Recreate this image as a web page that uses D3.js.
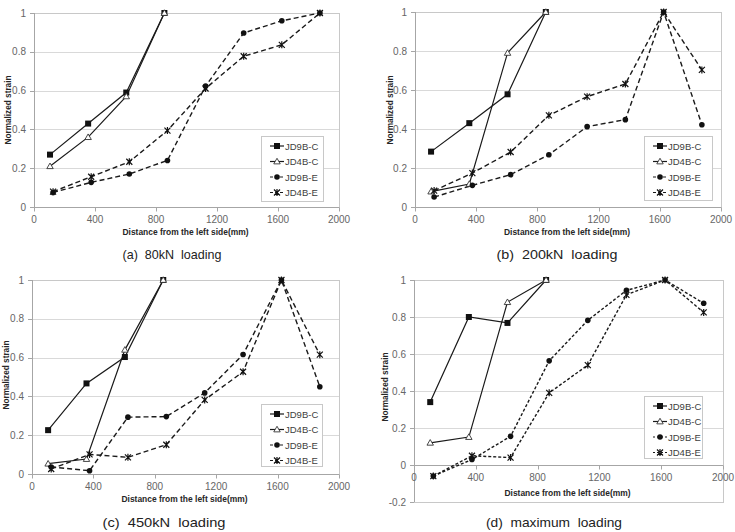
<!DOCTYPE html>
<html>
<head>
<meta charset="utf-8">
<script src="https://cdn.jsdelivr.net/npm/d3@7"></script>
<style>
	body { margin: 0; background: #fff; }
	svg { display: block; }
	.tick-label { font-family: "Liberation Sans", Arial, sans-serif; font-size: 10px; fill: #666; }
	.axis-title { font-family: "Liberation Sans", Arial, sans-serif; font-size: 9.5px; font-weight: bold; fill: #262626; }
	.legend-text { font-family: "Liberation Sans", Arial, sans-serif; font-size: 9.5px; fill: #404040; }
	.caption { font-family: "Liberation Sans", Arial, sans-serif; font-size: 13.5px; fill: #222; white-space: pre; }
</style>
</head>
<body>
<svg width="735" height="532"></svg>
<script>
// measuring positions (mm)
var xC = [105, 355, 605, 855];
var xE = [125, 375, 625, 875, 1125, 1375, 1625, 1875];
var seriesNames = ["JD9B-C", "JD4B-C", "JD9B-E", "JD4B-E"];
var captions = ["(a)  80kN  loading", "(b)  200kN  loading", "(c)  450kN  loading", "(d)  maximum  loading"];
var xTicks = [0, 400, 800, 1200, 1600, 2000];

// (a) 80kN
var a9C = [0.27, 0.43, 0.59, 1.0];
var a4C = [0.21, 0.36, 0.57, 1.0];
var a9E = [0.075, 0.127, 0.17, 0.24, 0.623, 0.897, 0.96, 1.0];
var a4E = [0.079, 0.156, 0.233, 0.394, 0.611, 0.777, 0.836, 1.0];

// (b) 200kN
var b9C = [0.284, 0.43, 0.578, 1.0];
var b4C = [0.079, 0.118, 0.79, 1.0];
var b9E = [0.051, 0.111, 0.166, 0.268, 0.412, 0.448, 1.0, 0.422];
var b4E = [0.084, 0.174, 0.282, 0.47, 0.566, 0.631, 1.0, 0.703];

// (c) 450kN
var c9C = [0.226, 0.467, 0.603, 1.0];
var c4C = [0.053, 0.077, 0.64, 1.0];
var c9E = [0.036, 0.017, 0.293, 0.296, 0.418, 0.616, 1.0, 0.45];
var c4E = [0.026, 0.101, 0.086, 0.151, 0.382, 0.527, 1.0, 0.615];

// (d) maximum
var d9C = [0.34, 0.8, 0.768, 1.0];
var d4C = [0.12, 0.151, 0.88, 1.0];
var d9E = [-0.06, 0.03, 0.155, 0.563, 0.782, 0.944, 1.0, 0.874];
var d4E = [-0.06, 0.05, 0.04, 0.39, 0.54, 0.92, 1.0, 0.825];

var yTicksA = [0, 0.2, 0.4, 0.6, 0.8, 1];
var yTicksD = [-0.2, 0, 0.2, 0.4, 0.6, 0.8, 1];

var panels = [
	{ left: 34, right: 339, top: 13, bottom: 207, yTicks: yTicksA, s: [a9C, a4C, a9E, a4E], dash: "5,3",
		tickY: 223, titleY: 235, capX: 172, capY: 259, capW: 99, yTitleX: 8, yTitleY: 110, legend: [261, 136, 62, 65] },
	{ left: 415, right: 721, top: 12, bottom: 207, yTicks: yTicksA, s: [b9C, b4C, b9E, b4E], dash: "5,3",
		tickY: 223, titleY: 235, capX: 557, capY: 259, capW: 121, yTitleX: 390, yTitleY: 110, legend: [644, 136, 68, 64] },
	{ left: 32, right: 339, top: 280, bottom: 474, yTicks: yTicksA, s: [c9C, c4C, c9E, c4E], dash: "5,3",
		tickY: 490, titleY: 502, capX: 164, capY: 527, capW: 123, yTitleX: 6, yTitleY: 375, legend: [261, 404, 61, 62] },
	{ left: 414, right: 723, top: 280, bottom: 502, yTicks: yTicksD, s: [d9C, d4C, d9E, d4E], dash: "3,2",
		tickY: 481, titleY: 496, capX: 554, capY: 527, capW: 136, yTitleX: 385, yTitleY: 387, legend: [644, 396, 58, 62] }
];

var svg = d3.select("svg");

function drawMarker(g, kind, x, y) {
	if (kind === 0) {
		g.append("rect").attr("x", x - 3).attr("y", y - 3).attr("width", 6).attr("height", 6).attr("fill", "#111");
	} else if (kind === 1) {
		g.append("path").attr("d", d3.symbol().type(d3.symbolTriangle).size(18)())
			.attr("transform", "translate(" + x + "," + (y + 0.5) + ")")
			.attr("fill", "#fff").attr("stroke", "#333").attr("stroke-width", 0.9);
	} else if (kind === 2) {
		g.append("circle").attr("cx", x).attr("cy", y).attr("r", 2.8).attr("fill", "#111");
	} else {
		// excel star marker: x with a vertical bar
		g.append("path")
			.attr("d", "M" + (x - 3) + "," + (y - 3) + "L" + (x + 3) + "," + (y + 3) +
				"M" + (x - 3) + "," + (y + 3) + "L" + (x + 3) + "," + (y - 3) +
				"M" + x + "," + (y - 3.5) + "L" + x + "," + (y + 3.5))
			.attr("stroke", "#111").attr("stroke-width", 1.2).attr("fill", "none");
	}
}

panels.forEach(function(p, pi) {
	var g = svg.append("g");
	var yMin = p.yTicks[0];
	var x = d3.scaleLinear().domain([0, 2000]).range([p.left, p.right]);
	var y = d3.scaleLinear().domain([yMin, 1]).range([p.bottom, p.top]);

	// gridlines
	g.append("g").selectAll("line").data(p.yTicks).enter().append("line")
		.attr("x1", p.left).attr("x2", p.right)
		.attr("y1", function(d) { return Math.round(y(d)) + 0.5; })
		.attr("y2", function(d) { return Math.round(y(d)) + 0.5; })
		.attr("stroke", "#d9d9d9").attr("stroke-width", 1);

	// plot border
	g.append("rect").attr("x", p.left + 0.5).attr("y", Math.round(p.top) + 0.5)
		.attr("width", p.right - p.left).attr("height", Math.round(p.bottom) - Math.round(p.top))
		.attr("fill", "none").attr("stroke", "#c8c8c8");

	// x axis at zero
	var y0 = Math.round(y(0)) + 0.5;
	g.append("line").attr("x1", p.left).attr("x2", p.right).attr("y1", y0).attr("y2", y0)
		.attr("stroke", "#a6a6a6");
	g.append("g").selectAll("line").data(xTicks).enter().append("line")
		.attr("x1", function(d) { return Math.round(x(d)) + 0.5; })
		.attr("x2", function(d) { return Math.round(x(d)) + 0.5; })
		.attr("y1", y0).attr("y2", y0 + 4).attr("stroke", "#a6a6a6");
	// y axis line + ticks
	g.append("line").attr("x1", p.left + 0.5).attr("x2", p.left + 0.5).attr("y1", p.top).attr("y2", p.bottom)
		.attr("stroke", "#a6a6a6");
	g.append("g").selectAll("line").data(p.yTicks).enter().append("line")
		.attr("x1", p.left - 4).attr("x2", p.left)
		.attr("y1", function(d) { return Math.round(y(d)) + 0.5; })
		.attr("y2", function(d) { return Math.round(y(d)) + 0.5; })
		.attr("stroke", "#a6a6a6");

	// tick labels
	g.append("g").selectAll("text").data(xTicks).enter().append("text")
		.attr("class", "tick-label")
		.attr("x", function(d) { return x(d); })
		.attr("y", p.tickY)
		.attr("text-anchor", "middle")
		.text(function(d) { return d; });
	g.append("g").selectAll("text").data(p.yTicks).enter().append("text")
		.attr("class", "tick-label")
		.attr("x", p.left - 8)
		.attr("y", function(d) { return y(d) + 3.5; })
		.attr("text-anchor", "end")
		.text(function(d) { return String(+d.toFixed(1)); });

	// axis titles
	g.append("text").attr("class", "axis-title")
		.attr("x", (p.left + p.right) / 2 - 1).attr("y", p.titleY)
		.attr("text-anchor", "middle")
		.attr("textLength", 126).attr("lengthAdjust", "spacingAndGlyphs")
		.text("Distance from the left side(mm)");
	g.append("text").attr("class", "axis-title")
		.attr("transform", "translate(" + (p.yTitleX + 3) + "," + p.yTitleY + ") rotate(-90)")
		.attr("text-anchor", "middle")
		.attr("textLength", 69).attr("lengthAdjust", "spacingAndGlyphs")
		.text("Normalized strain");

	// series
	var line = d3.line().x(function(d) { return x(d[0]); }).y(function(d) { return y(d[1]); });
	p.s.forEach(function(vals, si) {
		var xs = si < 2 ? xC : xE;
		var pts = vals.map(function(v, i) { return [xs[i], v]; });
		g.append("path").datum(pts)
			.attr("d", line)
			.attr("fill", "none")
			.attr("stroke", "#1a1a1a")
			.attr("stroke-width", si < 2 ? 1.2 : 1.4)
			.attr("stroke-dasharray", si < 2 ? null : p.dash);
	});
	p.s.forEach(function(vals, si) {
		var xs = si < 2 ? xC : xE;
		vals.forEach(function(v, i) { drawMarker(g, si, x(xs[i]), y(v)); });
	});

	// legend
	var L = p.legend;
	var lg = g.append("g");
	lg.append("rect").attr("x", L[0] + 0.5).attr("y", L[1] + 0.5).attr("width", L[2]).attr("height", L[3])
		.attr("fill", "#fff").attr("stroke", "#c8c8c8");
	seriesNames.forEach(function(name, si) {
		var ly = L[1] + 10 + si * 15.5;
		lg.append("line").attr("x1", L[0] + 9).attr("x2", L[0] + 23).attr("y1", ly).attr("y2", ly)
			.attr("stroke", "#1a1a1a").attr("stroke-width", 1.2)
			.attr("stroke-dasharray", si < 2 ? null : (pi === 3 ? "2,2" : "3,2"));
		drawMarker(lg, si, L[0] + 16, ly);
		lg.append("text").attr("class", "legend-text")
			.attr("x", L[0] + 24).attr("y", ly + 3.5)
			.text(name);
	});

	// caption
	g.append("text").attr("class", "caption")
		.attr("x", p.capX).attr("y", p.capY)
		.attr("text-anchor", "middle")
		.attr("textLength", p.capW).attr("lengthAdjust", "spacingAndGlyphs")
		.text(captions[pi]);
});
</script>
</body>
</html>
